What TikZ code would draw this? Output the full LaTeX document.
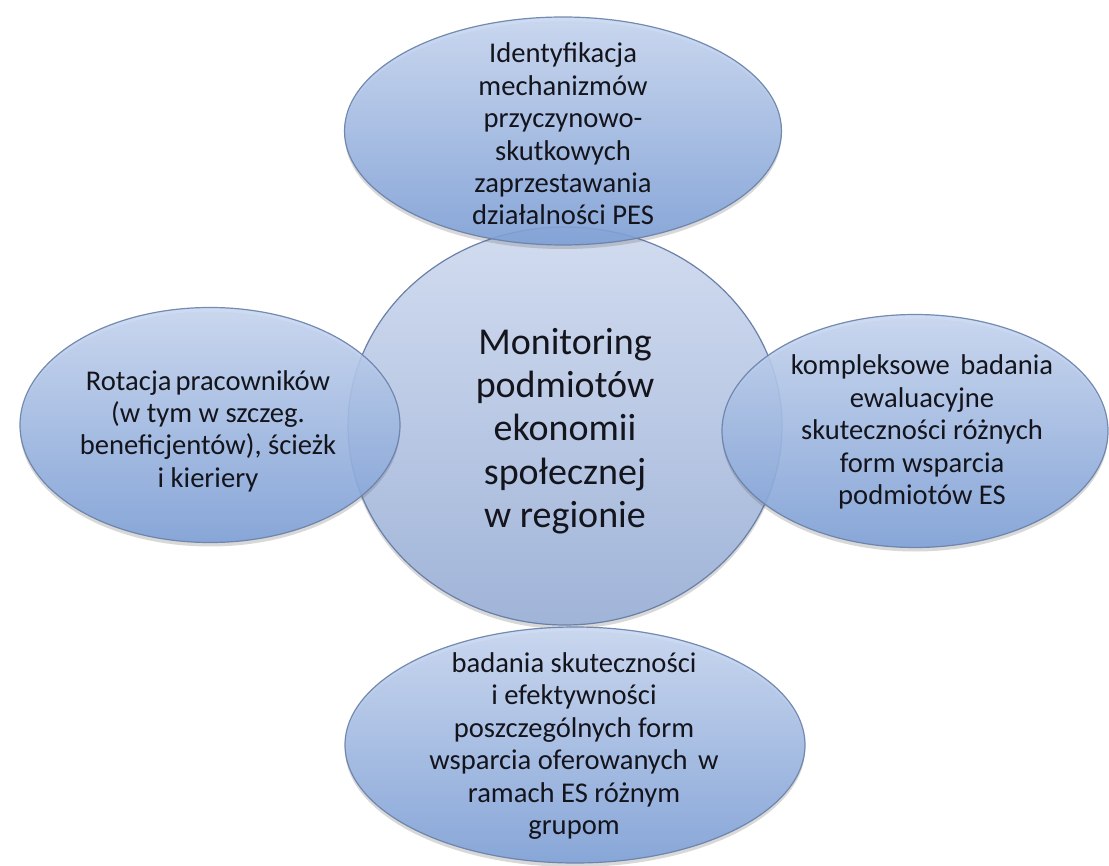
\documentclass[tikz,border=0pt]{standalone}
\usepackage{fontspec}
\setmainfont{Carlito}
\usetikzlibrary{shapes.geometric,shadows}
\definecolor{otop}{RGB}{200,215,242}
\definecolor{obot}{RGB}{125,160,216}
\definecolor{ctop}{RGB}{210,220,240}
\definecolor{cbot}{RGB}{160,180,216}
\definecolor{edgec}{RGB}{105,128,168}
\definecolor{txt}{RGB}{20,20,28}
\begin{document}
\begin{tikzpicture}[x=0.5pt,y=-0.5pt,
 blob/.style={ellipse, draw=edgec, line width=0.6pt, inner sep=0pt, outer sep=0pt,
   drop shadow={shadow xshift=0pt,shadow yshift=-2pt,opacity=0.25,fill=black!60}},
 outerblob/.style={blob, top color=otop, bottom color=obot, fill opacity=0.88, draw opacity=0.9},
 centreblob/.style={blob, top color=ctop, bottom color=cbot},
 lbl/.style={text=txt, align=center, font=\fontsize{14.3}{16.2}\selectfont, inner sep=0pt},
 bigl/.style={text=txt, align=center, font=\fontsize{19}{21.7}\selectfont, inner sep=0pt}]
\useasboundingbox (0,0) rectangle (1109,866);
\fill[white] (0,0) rectangle (1109,866);
\node[centreblob, minimum width=217pt, minimum height=199pt] (mid) at (565,426) {};
\node[outerblob, minimum width=218.5pt, minimum height=114pt] (top) at (563,131) {};
\node[outerblob, minimum width=190pt, minimum height=117.5pt] (left) at (210,425) {};
\node[outerblob, minimum width=193pt, minimum height=116.5pt] (right) at (915,431) {};
\node[outerblob, minimum width=230pt, minimum height=118pt] (bottom) at (575,745) {};
\node[bigl] (midt) at (565,431) {Monitoring\\podmiotów\\ekonomii\\społecznej\\w regionie};
\node[lbl] (topt) at (563,134) {Identyfikacja\\mechanizmów\\przyczynowo-\\skutkowych\\zaprzestawania\\działalności PES};
\node[lbl] (leftt) at (208,431) {Rotacja\hspace{-1.2pt} pracowników\\(w tym w szczeg.\\beneficjentów), ścieżk\\i kieriery};
\node[lbl] (rightt) at (922,432) {kompleksowe\hspace{2pt} badania\\ewaluacyjne\\skuteczności różnych\\form wsparcia\\podmiotów ES};
\node[lbl] (bott) at (574,746) {badania skuteczności\\i efektywności\\poszczególnych form\\wsparcia oferowanych\hspace{2pt} w\\ramach ES różnym\\grupom};
\end{tikzpicture}
\end{document}
